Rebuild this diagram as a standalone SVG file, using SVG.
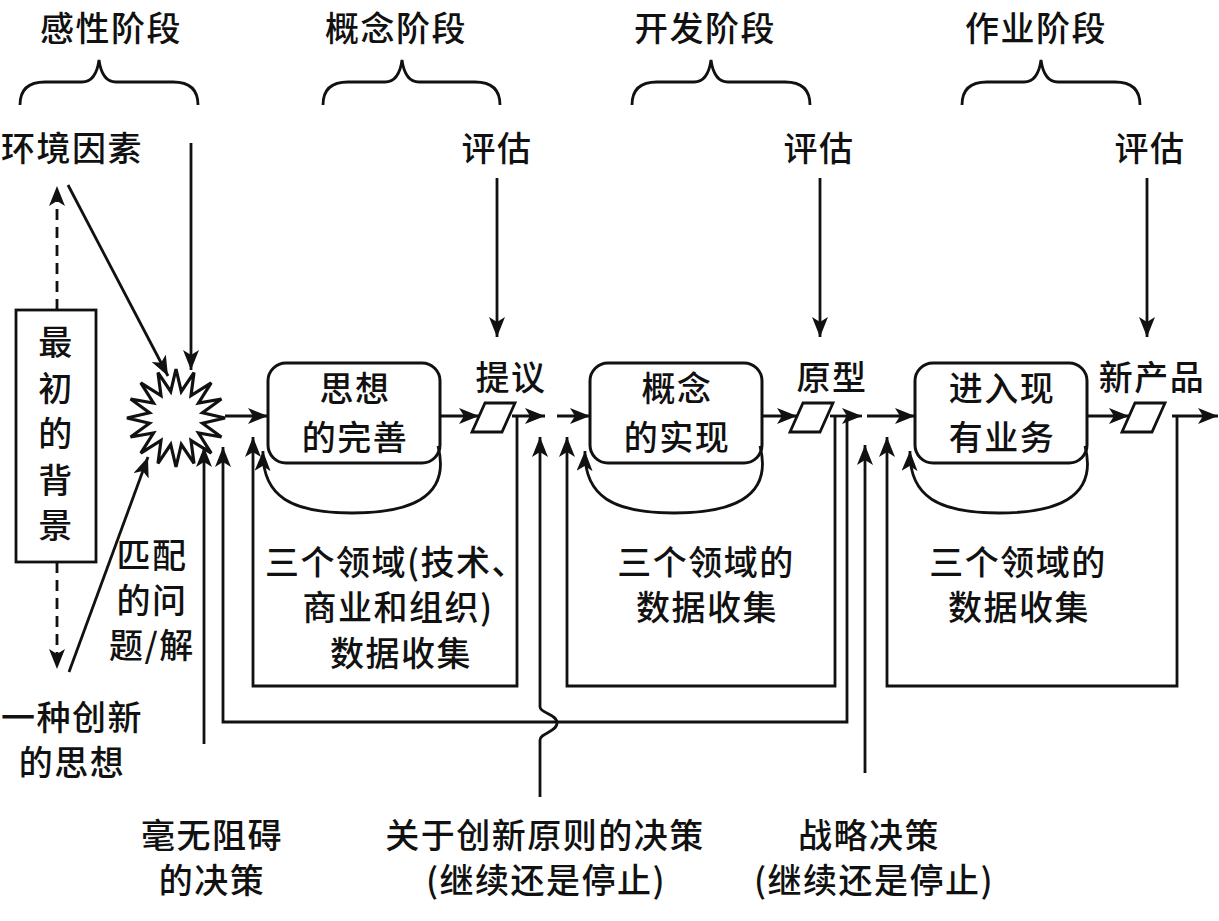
<svg xmlns="http://www.w3.org/2000/svg" width="1219" height="921" viewBox="0 0 1219 921">
<style>
text{font-family:"Noto Sans CJK SC","Noto Sans",sans-serif;font-size:34px;font-weight:500;fill:#111;text-anchor:middle;letter-spacing:1.5px}
.ln{fill:none;stroke:#111;stroke-width:2.8}
.bx{fill:#fff;stroke:#111;stroke-width:3}
.ar{marker-end:url(#ah)}
.ds{stroke-dasharray:11 7}
</style>
<defs>
<marker id="ah" markerUnits="userSpaceOnUse" markerWidth="22" markerHeight="16" refX="20" refY="8" orient="auto">
<path d="M0,0 L20,8 L0,16 L5,8 z" fill="#111"/>
</marker>
</defs>
<rect width="1219" height="921" fill="#fff"/>

<g id="phases">
<text x="111" y="41">感性阶段</text>
<text x="396" y="41">概念阶段</text>
<text x="705" y="41">开发阶段</text>
<text x="1036" y="41">作业阶段</text>
<path class="ln" d="M20,105 Q20,82 45,82 L82,82 Q96,82 99,60 Q102,82 116,82 L173,82 Q198,82 198,105"/>
<path class="ln" d="M323,105 Q323,82 348,82 L385,82 Q399,82 402,60 Q405,82 419,82 L475,82 Q500,82 500,105"/>
<path class="ln" d="M632,105 Q632,82 657,82 L694,82 Q708,82 711,60 Q714,82 728,82 L785,82 Q810,82 810,105"/>
<path class="ln" d="M962,105 Q962,82 987,82 L1024,82 Q1038,82 1041,60 Q1044,82 1058,82 L1115,82 Q1140,82 1140,105"/>
</g>

<g id="env"><text x="72" y="161">环境因素</text></g>
<g id="eval1"><text x="497" y="161">评估</text></g>
<g id="eval2"><text x="819" y="161">评估</text></g>
<g id="eval3"><text x="1150" y="161">评估</text></g>

<g id="background">
<rect class="bx" x="16" y="310" width="80" height="252" style="stroke-width:2.8"/>
<text x="56" y="355">最</text>
<text x="56" y="401">初</text>
<text x="56" y="446">的</text>
<text x="56" y="493">背</text>
<text x="56" y="538">景</text>
</g>

<g id="spark">
<polygon class="bx" style="stroke-width:3.2" points="176,369 181.3,391.5 194,372.6 191,395.5 211.2,382.8 198.5,403 221.4,399 202.5,412.7 225,418 202.5,423.3 221.4,437 198.5,433 211.2,453.2 191,440.5 194,463.4 181.3,444.5 176,467 170.7,444.5 158,463.4 161,440.5 140.8,453.2 153.5,433 130.6,437 149.5,423.3 127,418 149.5,412.7 130.6,399 153.5,403 140.8,382.8 161,395.5 158,372.6 170.7,391.5"/>
</g>

<g id="match"><text x="152" y="568">匹配</text><text x="152" y="613">的问</text><text x="152" y="658">题/解</text></g>
<g id="idea"><text x="72" y="730">一种创新</text><text x="72" y="775">的思想</text></g>

<g id="box1">
<rect class="bx" x="268" y="363" width="172" height="100" rx="18"/>
<text x="355" y="401">思想</text><text x="355" y="450">的完善</text>
</g>
<g id="box2">
<rect class="bx" x="590" y="363" width="172" height="100" rx="18"/>
<text x="677" y="401">概念</text><text x="677" y="450">的实现</text>
</g>
<g id="box3">
<rect class="bx" x="915" y="363" width="172" height="100" rx="18"/>
<text x="1002" y="401">进入现</text><text x="1002" y="450">有业务</text>
</g>

<g id="proposal">
<text x="511" y="390">提议</text>
<polygon class="bx" points="485,403 515,403 502,432 472,432" style="stroke-width:2.8"/>
</g>
<g id="prototype">
<text x="832" y="390">原型</text>
<polygon class="bx" points="803,403 833,403 820,432 790,432" style="stroke-width:2.8"/>
</g>
<g id="newproduct">
<text x="1152" y="390">新产品</text>
<polygon class="bx" points="1135,403 1165,403 1152,432 1122,432" style="stroke-width:2.8"/>
</g>

<g id="data1"><text x="396" y="575">三个领域(技术、</text><text x="398" y="620">商业和组织)</text><text x="401" y="666">数据收集</text></g>
<g id="data2"><text x="706" y="575">三个领域的</text><text x="707" y="620">数据收集</text></g>
<g id="data3"><text x="1018" y="575">三个领域的</text><text x="1019" y="620">数据收集</text></g>

<g id="dec1"><text x="212" y="848">毫无阻碍</text><text x="212" y="893">的决策</text></g>
<g id="dec2"><text x="545" y="848">关于创新原则的决策</text><text x="546" y="893">(继续还是停止)</text></g>
<g id="dec3"><text x="869" y="848">战略决策</text><text x="874" y="893">(继续还是停止)</text></g>

<g id="connectors">
<path class="ln ar" d="M68,185 L168,376"/>
<path class="ln ar" d="M191,143 L191,370"/>
<path class="ln ar ds" d="M57,310 L57,186"/>
<path class="ln ar ds" d="M57,562 L57,669"/>
<path class="ln ar" d="M69,672 L148,457"/>
<path class="ln ar" d="M497,178 L497,337"/>
<path class="ln ar" d="M820,178 L820,337"/>
<path class="ln ar" d="M1147,178 L1147,337"/>

<path class="ln ar" d="M225,416 L268,416"/>
<path class="ln ar" d="M440,416 L479,416"/>
<path class="ln ar" d="M512,416 L545,416"/>
<path class="ln ar" d="M557,416 L590,416"/>
<path class="ln ar" d="M762,416 L797,416"/>
<path class="ln ar" d="M830,416 L862,416"/>
<path class="ln ar" d="M867,416 L915,416"/>
<path class="ln ar" d="M1087,416 L1129,416"/>
<path class="ln ar" d="M1172,416 L1218,416"/>

<path class="ln ar" d="M438,446 C452,500 405,513 352,513 C292,513 262,497 263,451"/>
<path class="ln ar" d="M760,446 C774,500 727,513 674,513 C614,513 584,497 585,451"/>
<path class="ln ar" d="M1085,446 C1099,500 1052,513 999,513 C939,513 909,497 910,451"/>

<path class="ln ar" d="M517,416 L517,686 L253,686 L253,437"/>
<path class="ln ar" d="M835,416 L835,686 L567,686 L567,437"/>
<path class="ln ar" d="M1177,416 L1177,686 L887,686 L887,437"/>
<path class="ln ar" d="M847,416 L847,722 L223,722 L223,447"/>

<path class="ln ar" d="M204,744 L204,447"/>
<path class="ln ar" d="M540,797 L540,740 C540,733 557,732 557,723 C557,714 540,713 540,707 L540,437"/>
<path class="ln ar" d="M865,773 L865,445"/>
</g>
</svg>
